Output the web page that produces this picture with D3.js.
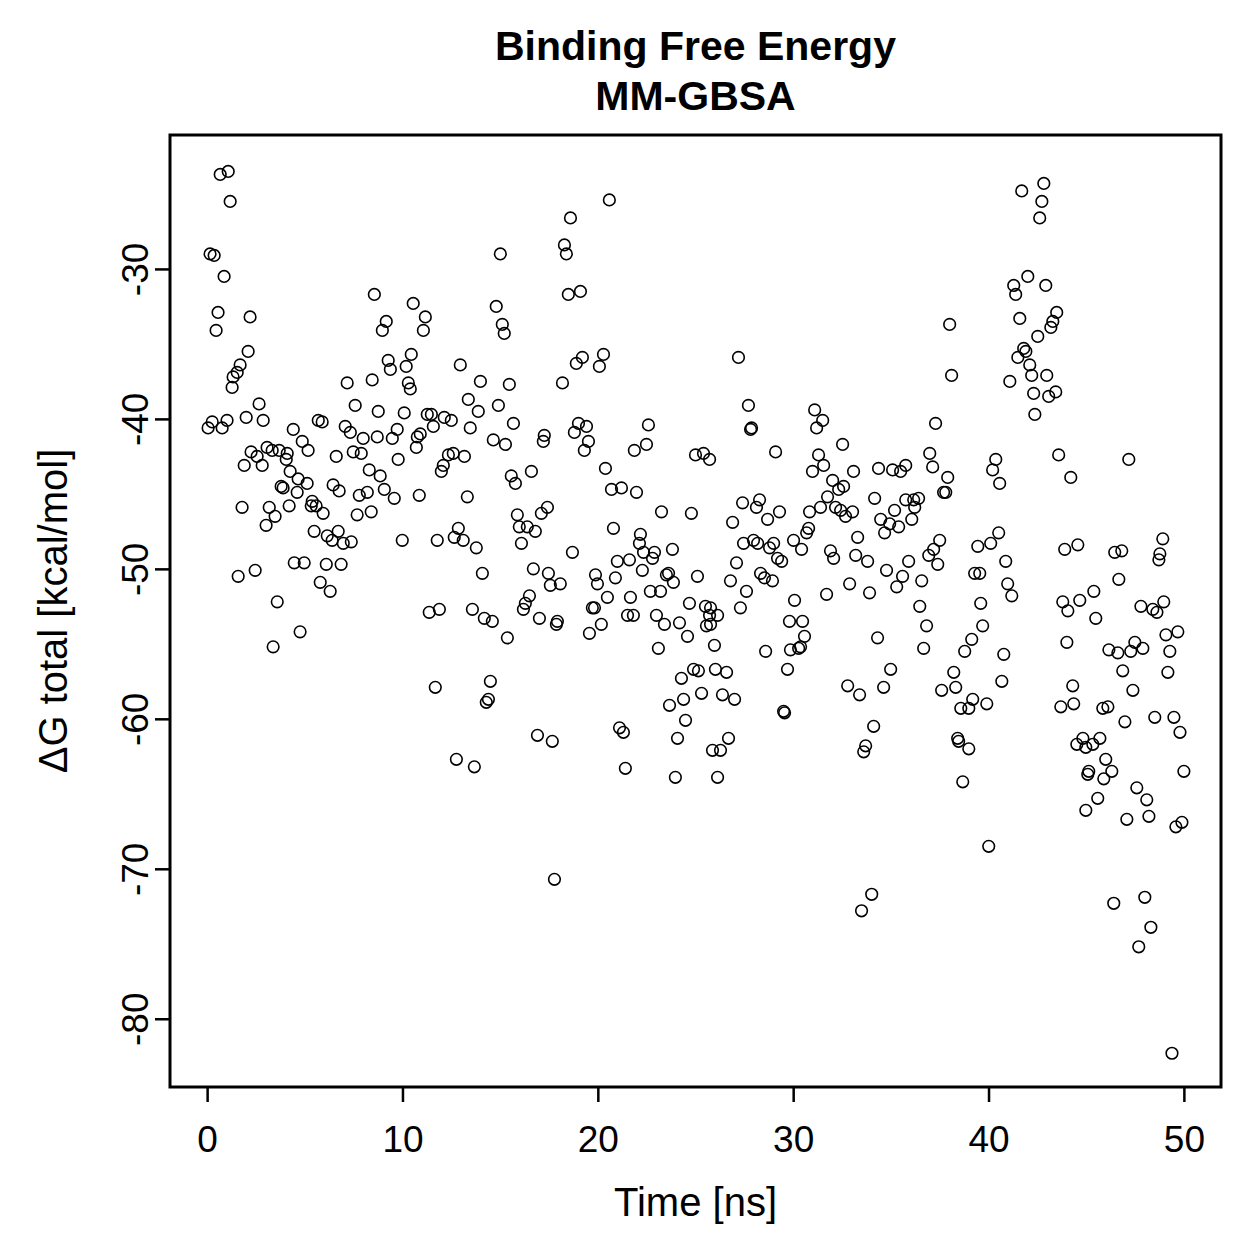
<!DOCTYPE html>
<html>
<head>
<meta charset="utf-8">
<script src="https://cdn.jsdelivr.net/npm/d3@7"></script>
<style>
  html, body { margin: 0; padding: 0; background: #fff; }
  svg { display: block; }
  text { font-family: "Liberation Sans", Arial, Helvetica, sans-serif; fill: #000; }
</style>
</head>
<body>
<svg id="chart" width="1259" height="1259"></svg>
<script>
// ---- data ----
const titleLines = ["Binding Free Energy", "MM-GBSA"];
const xLabel = "Time [ns]";
const yLabel = "\u0394G total [kcal/mol]";
const xTicks = [0, 10, 20, 30, 40, 50];
const yTicks = [-80, -70, -60, -50, -40, -30];

const time = [
  0.67,1.08,1.18,0.15,0.36,0.87,0.56,2.20,0.46,2.10,
  1.69,1.54,1.33,1.28,8.56,9.17,8.97,10.55,11.17,11.07,
  9.27,9.38,10.45,10.19,10.30,10.40,7.17,8.45,12.96,2.66,
  2.00,2.87,0.26,0.05,0.77,1.02,4.41,4.87,5.17,5.69,
  5.89,7.58,8.76,10.09,11.27,11.48,12.14,12.50,11.58,7.07,
  7.33,7.99,8.71,9.48,9.73,10.91,10.76,10.71,9.78,6.61,
  7.48,7.89,8.30,8.86,11.99,12.09,12.35,12.60,2.25,2.56,
  1.90,2.82,3.07,3.33,3.69,4.10,4.05,4.25,
  4.66,5.12,3.79,3.89,4.61,3.18,1.79,4.20,3.48,3.02,
  5.38,5.33,5.58,5.94,5.48,6.15,6.40,6.71,6.97,7.38,
  6.45,6.76,7.79,8.20,9.07,9.58,7.68,8.40,10.86,9.99,
  11.78,12.65,12.86,1.59,2.46,4.46,4.97,6.10,6.86,5.79,
  6.30,3.59,4.76,3.38,11.37,11.89,11.68,12.76,
  20.59,18.60,15.01,18.29,18.39,18.49,19.11,14.80,15.11,15.21,
  13.99,15.47,18.19,19.21,18.90,20.29,20.08,13.37,13.88,14.91,
  13.47,15.68,14.65,15.27,17.26,17.21,19.01,19.42,18.80,19.52,
  19.31,22.59,22.49,21.87,25.00,25.41,25.72,13.17,
  15.78,16.60,15.57,20.39,20.70,21.21,21.98,13.32,15.88,15.98,
  16.39,16.80,16.09,17.11,17.42,13.11,13.78,14.09,16.70,17.47,
  17.57,18.08,18.70,16.50,16.29,16.19,17.01,17.93,17.88,13.58,
  14.19,14.60,15.37,19.88,19.98,20.49,19.72,19.83,20.18,19.57,
  20.80,21.00,20.90,21.62,21.67,22.28,22.18,22.13,22.34,22.80,
  22.90,23.26,24.79,23.82,23.51,23.62,23.87,25.10,22.69,23.21,
  21.52,21.82,23.00,23.41,24.18,24.69,25.51,25.72,26.13,25.56,
  24.59,25.97,23.10,24.28,24.90,25.15,26.02,23.67,24.39,25.31,
  26.38,24.49,24.08,25.87,26.28,23.97,26.13,14.50,14.40,14.29,
  16.91,17.67,21.11,21.31,13.68,21.41,
  38.01,38.11,27.20,27.71,27.82,27.87,31.10,31.51,31.20,32.53,
  29.10,31.30,31.56,30.99,33.09,34.37,35.09,35.76,35.50,36.99,
  37.14,37.29,37.91,32.02,
  37.70,37.81,32.33,32.58,31.76,32.17,32.43,32.68,33.04,34.17,
  31.40,30.84,30.79,30.69,28.28,28.12,27.41,29.30,28.69,26.90,
  27.97,28.18,27.46,29.00,28.79,29.20,29.41,30.02,30.43,27.10,
  26.79,28.33,28.53,28.94,27.61,27.30,30.07,29.81,30.48,30.58,
  29.86,30.28,30.38,28.59,29.71,31.71,32.89,31.91,32.07,33.20,
  33.81,33.30,33.91,34.78,35.30,35.60,35.91,36.58,36.94,37.19,
  37.50,37.40,39.45,39.29,39.55,34.48,34.68,34.94,35.40,35.19,
  36.07,35.76,36.17,36.42,36.22,36.48,36.83,36.68,34.32,34.99,
  34.63,32.79,33.40,26.59,27.00,29.56,29.51,34.12,33.71,33.61,
  38.22,38.32,37.60,38.58,38.99,39.19,38.42,38.47,38.99,38.68,
  26.69,39.60,39.70,39.14,38.78,25.77,25.77,
  41.70,42.83,42.73,42.62,42.01,41.29,41.39,42.93,41.60,43.49,
  43.29,43.19,42.52,41.80,41.91,41.50,42.11,42.98,42.21,41.09,
  42.31,43.44,43.08,42.37,43.59,47.18,40.37,40.21,44.21,
  40.57,40.52,40.11,40.88,40.98,41.19,40.78,40.68,39.91,43.90,
  44.57,46.46,46.82,48.92,48.77,48.72,46.67,45.39,44.67,43.80,
  44.06,45.49,47.80,48.41,48.62,48.97,49.08,49.69,49.28,49.18,
  44.01,46.16,46.62,47.28,47.49,47.90,46.87,47.39,44.31,43.70,
  44.36,45.85,46.11,46.98,48.51,49.49,49.80,44.83,44.52,44.98,
  45.34,45.70,46.00,46.31,45.13,45.08,45.90,47.59,50.00,
  45.59,44.98,48.10,48.21,47.08,49.59,49.90,40.01,46.41,48.00,
  48.31,47.69,49.39,17.78,34.02,33.50
];

const dG = [
  -23.7,-23.5,-25.5,-29.0,-29.1,-30.5,-32.9,-33.2,-34.1,-35.5,
  -36.4,-36.9,-37.2,-37.9,-31.7,-33.5,-34.1,-32.3,-33.2,-34.1,
  -36.1,-36.7,-35.7,-36.5,-37.6,-38.0,-37.6,-37.4,-36.4,-39.0,
  -39.9,-40.1,-40.2,-40.6,-40.6,-40.1,-40.7,-41.5,-42.1,-40.1,
  -40.2,-39.1,-39.5,-39.6,-39.7,-39.7,-39.9,-40.1,-40.5,-40.5,
  -40.9,-41.3,-41.2,-41.3,-40.7,-41.0,-41.2,-41.9,-42.7,-42.5,
  -42.2,-42.3,-43.4,-43.8,-43.5,-43.1,-42.4,-42.3,-42.2,-42.5,
  -43.1,-43.1,-41.9,-42.1,-42.1,-42.3,-42.7,-43.5,
  -44.0,-44.3,-44.5,-44.6,-44.9,-45.9,-45.9,-45.8,-46.5,-47.1,
  -45.5,-45.8,-45.8,-46.3,-47.5,-47.8,-48.1,-47.5,-48.3,-48.2,
  -44.4,-44.8,-45.1,-44.9,-44.7,-45.3,-46.4,-46.2,-45.1,-48.1,
  -48.1,-47.9,-47.3,-50.5,-50.1,-49.6,-49.6,-49.7,-49.7,-50.9,
  -51.5,-52.2,-54.2,-55.2,-52.9,-52.7,-57.9,-62.7,
  -25.4,-26.6,-29.0,-28.4,-29.0,-31.7,-31.5,-32.5,-33.7,-34.3,
  -37.5,-37.7,-37.6,-35.9,-36.3,-35.7,-36.5,-38.7,-39.5,-39.1,
  -40.6,-40.3,-41.4,-41.7,-41.1,-41.5,-40.3,-40.5,-40.9,-41.5,
  -42.1,-40.4,-41.7,-42.1,-42.4,-42.3,-42.7,-42.5,
  -44.3,-43.5,-43.8,-43.3,-44.7,-44.6,-44.9,-45.2,-46.4,-47.2,
  -47.2,-47.5,-48.3,-46.3,-45.9,-48.1,-48.6,-50.3,-50.0,-50.3,
  -51.1,-51.0,-48.9,-51.8,-52.3,-52.7,-53.3,-53.5,-53.7,-52.7,
  -53.3,-53.5,-54.6,-50.4,-51.0,-51.9,-52.6,-52.6,-53.7,-54.3,
  -47.3,-49.5,-50.6,-49.4,-51.9,-50.1,-47.7,-48.3,-48.9,-49.3,
  -48.9,-46.2,-46.3,-48.7,-50.4,-50.3,-50.9,-50.5,-51.5,-51.5,
  -53.1,-53.1,-53.1,-53.7,-53.6,-52.3,-52.5,-53.1,-53.1,-53.8,
  -54.5,-55.1,-55.3,-57.3,-56.7,-56.8,-56.7,-59.1,-58.7,-58.3,
  -58.4,-60.1,-61.3,-62.1,-62.1,-63.9,-63.9,-57.5,-58.7,-58.9,
  -61.1,-61.5,-60.6,-60.9,-63.2,-63.3,
  -33.7,-37.1,-35.9,-39.1,-40.7,-40.6,-39.4,-40.1,-40.6,-41.7,
  -42.2,-42.4,-43.1,-43.5,-43.5,-43.3,-43.4,-43.1,-43.5,-42.3,
  -43.2,-40.3,-43.9,-44.1,
  -44.9,-44.9,-44.7,-44.5,-45.2,-45.9,-46.1,-46.5,-46.2,-45.3,
  -45.9,-46.2,-47.3,-47.6,-45.4,-45.9,-45.6,-46.2,-46.7,-46.9,
  -48.1,-48.3,-48.3,-48.3,-48.6,-49.3,-49.5,-48.1,-48.7,-49.6,
  -50.8,-50.3,-50.6,-50.8,-51.5,-52.6,-52.1,-53.5,-53.5,-54.5,
  -55.4,-55.3,-55.2,-55.5,-56.7,-51.7,-51.0,-48.8,-49.3,-49.1,
  -49.5,-47.9,-51.6,-50.1,-51.2,-50.5,-49.5,-50.8,-49.1,-48.7,
  -48.1,-49.7,-48.5,-50.3,-50.3,-46.7,-47.6,-47.0,-47.2,-46.1,
  -46.7,-45.4,-45.4,-45.3,-45.9,-52.5,-53.8,-55.3,-54.6,-56.7,
  -57.9,-57.8,-58.4,-56.9,-58.7,-59.6,-59.5,-60.5,-61.8,-62.2,
  -56.9,-57.9,-58.1,-59.3,-59.3,-58.7,-61.3,-61.5,-62.0,-64.2,
  -61.3,-52.3,-53.8,-54.7,-55.5,-52.6,-53.7,
  -24.8,-24.3,-25.5,-26.6,-30.5,-31.1,-31.7,-31.1,-33.3,-32.9,
  -33.5,-33.9,-34.5,-35.3,-35.5,-35.9,-36.4,-37.1,-37.1,-37.5,
  -38.3,-38.2,-38.5,-39.7,-42.4,-42.7,-42.7,-43.4,-43.9,
  -44.3,-47.6,-48.3,-49.5,-51.0,-51.8,-55.7,-57.5,-59.0,-48.7,
  -48.4,-48.9,-48.8,-48.0,-49.0,-49.4,-50.7,-51.5,-52.1,-52.2,
  -52.8,-53.3,-52.5,-52.7,-52.9,-52.2,-54.4,-54.2,-55.5,-56.9,
  -54.9,-55.4,-55.6,-55.5,-54.9,-55.3,-56.8,-58.1,-57.8,-59.2,
  -59.0,-59.3,-59.2,-60.2,-59.9,-59.9,-60.9,-61.3,-61.7,-61.9,
  -61.7,-61.3,-62.7,-63.5,-63.5,-63.7,-64.0,-64.6,-63.5,
  -65.3,-66.1,-65.4,-66.5,-66.7,-67.2,-66.9,-68.5,-72.3,-71.9,
  -73.9,-75.2,-82.3,-70.7,-71.7,-72.8
];

// ---- layout ----
const W = 1259, H = 1259;
const plot = { left: 170, right: 1221, top: 135, bottom: 1087 };

const svg = d3.select("#chart");
svg.append("rect").attr("width", W).attr("height", H).attr("fill", "#fff");

const x = d3.scaleLinear().domain([-1.9, 51.9]).range([plot.left, plot.right]);
const y = d3.scaleLinear().domain([-84.55, -21.07]).range([plot.bottom, plot.top]);

const points = d3.zip(time, dG);
const plainFmt = d => String(d);   // R-style hyphen-minus

// points
svg.append("g")
  .selectAll("circle")
  .data(points)
  .join("circle")
  .attr("cx", d => x(d[0]))
  .attr("cy", d => y(d[1]))
  .attr("r", 5.8)
  .attr("fill", "none")
  .attr("stroke", "#000")
  .attr("stroke-width", 1.6);

// x axis
const gx = svg.append("g")
  .attr("transform", `translate(0,${plot.bottom})`)
  .call(d3.axisBottom(x).tickValues(xTicks).tickFormat(plainFmt)
        .tickSize(15).tickSizeOuter(0).tickPadding(24));
gx.select(".domain").remove();
gx.append("line").attr("x1", x(xTicks[0])).attr("x2", x(xTicks[xTicks.length - 1]))
  .attr("stroke", "#000").attr("stroke-width", 2);
gx.selectAll(".tick line").attr("stroke", "#000").attr("stroke-width", 2.5);
gx.selectAll(".tick text")
  .style("font-family", "'Liberation Sans', Arial, sans-serif")
  .style("font-size", "37px").attr("fill", "#000");

// y axis
const gy = svg.append("g")
  .attr("transform", `translate(${plot.left},0)`)
  .call(d3.axisLeft(y).tickValues(yTicks).tickFormat(plainFmt)
        .tickSize(15).tickSizeOuter(0));
gy.select(".domain").remove();
gy.selectAll(".tick line").attr("stroke", "#000").attr("stroke-width", 2.5);
gy.selectAll(".tick text")
  .attr("x", null).attr("dy", null)
  .attr("transform", "translate(-22,0) rotate(-90)")
  .attr("text-anchor", "middle")
  .style("font-family", "'Liberation Sans', Arial, sans-serif")
  .style("font-size", "37px").attr("fill", "#000");

// box
svg.append("rect")
  .attr("x", plot.left).attr("y", plot.top)
  .attr("width", plot.right - plot.left).attr("height", plot.bottom - plot.top)
  .attr("fill", "none").attr("stroke", "#000").attr("stroke-width", 3);

// title
const cx = (plot.left + plot.right) / 2;
svg.append("text").attr("x", cx).attr("y", 60).attr("text-anchor", "middle")
  .style("font-size", "41px").style("font-weight", "bold").text(titleLines[0]);
svg.append("text").attr("x", cx).attr("y", 110).attr("text-anchor", "middle")
  .style("font-size", "41px").style("font-weight", "bold").text(titleLines[1]);

// axis labels
svg.append("text").attr("x", cx).attr("y", 1216).attr("text-anchor", "middle")
  .style("font-size", "40px").text(xLabel);
svg.append("text")
  .attr("transform", `translate(67,${(plot.top + plot.bottom) / 2}) rotate(-90)`)
  .attr("text-anchor", "middle")
  .style("font-size", "40px").text(yLabel);
</script>
</body>
</html>
